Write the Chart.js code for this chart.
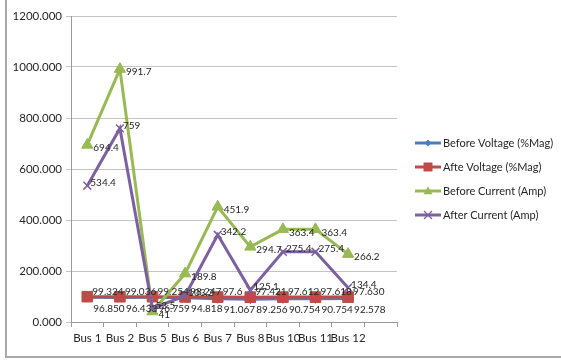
<!DOCTYPE html>
<html>
<head>
<meta charset="utf-8">
<script src="https://cdn.jsdelivr.net/npm/chart.js@4/dist/chart.umd.min.js"></script>
<style>
  html, body { margin: 0; padding: 0; background: #fff; }
  #wrap { position: relative; width: 561px; height: 360px; }
  #frame { position: absolute; left: 5px; top: 0; width: 556px; height: 356px;
           border-left: 2px solid #a9a9a9; border-bottom: 2px solid #a9a9a9; pointer-events: none; }
  canvas { position: absolute; left: 0; top: 0; }
</style>
</head>
<body>
<div id="wrap">
  <canvas id="c" width="561" height="360"></canvas>
  <div id="frame"></div>
</div>
<script>
// Buses along the x axis (the last slot is left empty)
const categories = ['Bus 1', 'Bus 2', 'Bus 5', 'Bus 6', 'Bus 7', 'Bus 8', 'Bus 10', 'Bus 11', 'Bus 12', ''];

// Voltage magnitude (%) before and after
const beforeVoltage = [96.850, 96.433, 96.759, 94.818, 91.067, 89.256, 90.754, 90.754, 92.578, null];
const afterVoltage  = [99.324, 99.036, 99.254, 98.247, 97.6, 97.421, 97.612, 97.618, 97.630, null];

// Line current (A) before and after
const beforeCurrent = [694.4, 991.7, 41, 189.8, 451.9, 294.7, 363.4, 363.4, 266.2, null];
const afterCurrent  = [534.4, 759, 53.5, 103.2, 342.2, 125.1, 275.4, 275.4, 134.4, null];

// Y axis tick values
const yTicks = [0, 200, 400, 600, 800, 1000, 1200];

const seriesNames = ['Before Voltage (%Mag)', 'Afte Voltage (%Mag)', 'Before Current (Amp)', 'After Current (Amp)'];

const FONT = 'Lato, "Liberation Sans", sans-serif';
const TEXT = '#262626';

const styles = [
  { color: '#4A7EBB', point: 'rectRot', radius: 4.5, dx: 6, dy: 11, label: v => v.toFixed(3) },
  { color: '#BE4B48', point: 'rect', radius: 7.5, dx: 5, dy: -5, label: v => String(v) === '97.6' ? '97.6' : v.toFixed(3) },
  { color: '#98B954', point: 'triangle', radius: 6.5, dx: 6, dy: 3, label: v => String(v) },
  { color: '#7D60A0', point: 'crossRot', radius: 5.5, dx: 3, dy: -3, label: v => String(v) }
];
const seriesData = [beforeVoltage, afterVoltage, beforeCurrent, afterCurrent];

const datasets = seriesData.map((d, i) => ({
  label: seriesNames[i],
  data: d,
  borderColor: styles[i].color,
  backgroundColor: styles[i].color,
  pointBackgroundColor: styles[i].color,
  pointBorderColor: styles[i].color,
  pointStyle: styles[i].point,
  pointRadius: styles[i].radius,
  pointBorderWidth: styles[i].point === 'crossRot' ? 1.5 : 1,
  borderWidth: 3,
  tension: 0,
  spanGaps: false,
  order: 4 - i
}));

// Value labels next to every point
const valueLabels = {
  id: 'valueLabels',
  afterDatasetsDraw(chart) {
    const ctx = chart.ctx;
    ctx.save();
    ctx.font = '10px ' + FONT;
    ctx.fillStyle = TEXT;
    ctx.textAlign = 'left';
    ctx.textBaseline = 'middle';
    chart.data.datasets.forEach((ds, i) => {
      const meta = chart.getDatasetMeta(i);
      meta.data.forEach((pt, j) => {
        const v = ds.data[j];
        if (v === null || v === undefined) return;
        ctx.fillText(styles[i].label(v), pt.x + styles[i].dx, pt.y + styles[i].dy);
      });
    });
    ctx.restore();
  }
};

function marker(ctx, style, x, y, r, color) {
  ctx.save();
  ctx.fillStyle = color;
  ctx.strokeStyle = color;
  ctx.beginPath();
  if (style === 'rect') {
    ctx.rect(x - r, y - r, 2 * r, 2 * r);
    ctx.fill();
  } else if (style === 'rectRot') {
    ctx.moveTo(x, y - r); ctx.lineTo(x + r, y); ctx.lineTo(x, y + r); ctx.lineTo(x - r, y);
    ctx.closePath(); ctx.fill();
  } else if (style === 'triangle') {
    ctx.moveTo(x, y - r); ctx.lineTo(x + r, y + r * 0.7); ctx.lineTo(x - r, y + r * 0.7);
    ctx.closePath(); ctx.fill();
  } else {
    ctx.lineWidth = 1.2;
    ctx.moveTo(x - r, y - r); ctx.lineTo(x + r, y + r);
    ctx.moveTo(x + r, y - r); ctx.lineTo(x - r, y + r);
    ctx.stroke();
  }
  ctx.restore();
}

// Legend on the right: line sample with marker, then the series name
const sideLegend = {
  id: 'sideLegend',
  afterDraw(chart) {
    const ctx = chart.ctx;
    const x0 = 415, x1 = 441, rowY = [143, 167, 191, 215];
    const mr = [3.5, 4.5, 4.5, 4];
    ctx.save();
    chart.data.datasets.forEach((ds, i) => {
      const y = rowY[i];
      ctx.strokeStyle = styles[i].color;
      ctx.lineWidth = 3;
      ctx.beginPath(); ctx.moveTo(x0, y); ctx.lineTo(x1, y); ctx.stroke();
      marker(ctx, styles[i].point, (x0 + x1) / 2, y, mr[i], styles[i].color);
      ctx.font = '11px ' + FONT;
      ctx.fillStyle = TEXT;
      ctx.textAlign = 'left';
      ctx.textBaseline = 'middle';
      ctx.fillText(ds.label, x1 + 2, y);
    });
    ctx.restore();
  }
};

new Chart(document.getElementById('c'), {
  type: 'line',
  data: { labels: categories, datasets },
  plugins: [valueLabels, sideLegend],
  options: {
    responsive: false,
    animation: false,
    layout: { padding: { left: 0, right: 164, top: 16, bottom: 0 } },
    plugins: { legend: { display: false }, tooltip: { enabled: false } },
    scales: {
      x: {
        type: 'category',
        offset: true,
        grid: { display: true, drawOnChartArea: false, drawTicks: true, tickLength: 5, offset: true, color: '#9a9a9a' },
        border: { display: true, color: '#9a9a9a', width: 1 },
        ticks: { autoSkip: false, maxRotation: 0, padding: 4, color: TEXT, font: { family: FONT, size: 11.5 } },
        afterFit(scale) { scale.height = 38; }
      },
      y: {
        min: 0,
        max: 1200,
        afterBuildTicks(scale) { scale.ticks = yTicks.map(v => ({ value: v })); },
        grid: { color: '#c4c4c4', tickLength: 5, drawTicks: true },
        border: { display: true, color: '#9a9a9a', width: 1 },
        ticks: { padding: 4, color: TEXT, font: { family: FONT, size: 11.5 }, callback: v => Number(v).toFixed(3) },
        afterFit(scale) { scale.width = 71; }
      }
    }
  }
});
</script>
</body>
</html>
